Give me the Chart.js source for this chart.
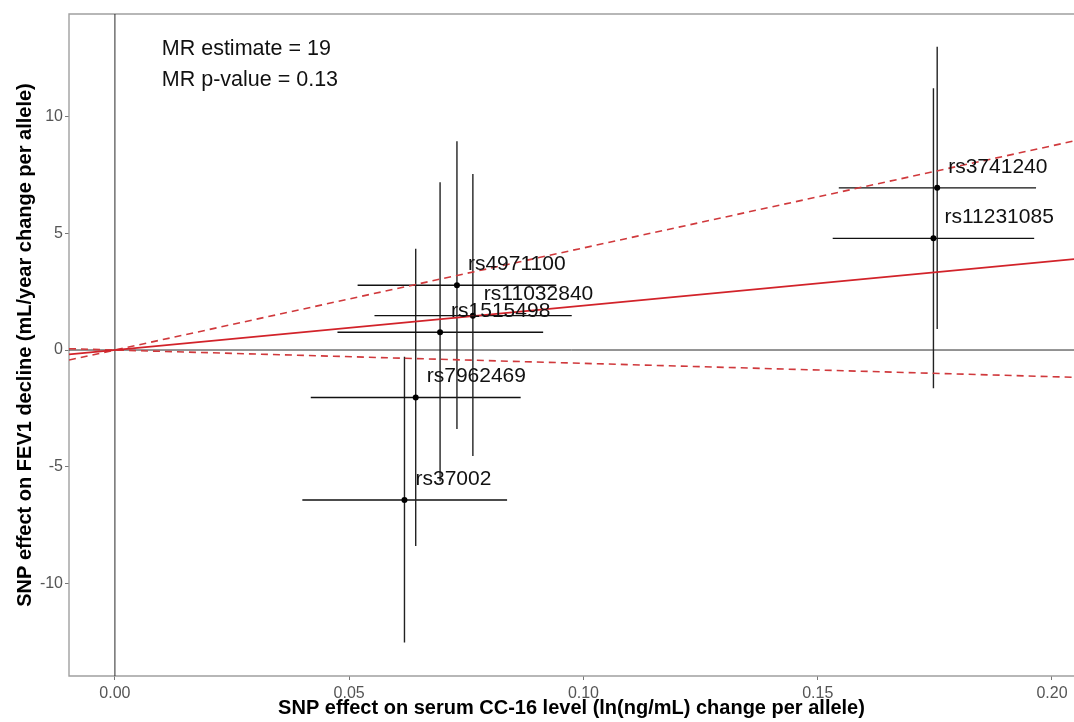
<!DOCTYPE html>
<html>
<head>
<meta charset="utf-8">
<script src="https://cdn.jsdelivr.net/npm/chart.js@4.4.1/dist/chart.umd.min.js"></script>
<style>
  body { margin: 0; background: #fff; }
  #wrap { width: 1074px; height: 722px; }
</style>
</head>
<body>
<div id="wrap"><canvas id="chart"></canvas></div>
<script>
// SNP effects
const snps = ['rs3741240', 'rs11231085', 'rs4971100', 'rs11032840', 'rs1515498', 'rs7962469', 'rs37002'];
const cc16Effect = [0.1755, 0.1747, 0.0730, 0.0764, 0.0694, 0.0642, 0.0618];
const cc16Lower = [0.1545, 0.1532, 0.0518, 0.0554, 0.0475, 0.0418, 0.0400];
const cc16Upper = [0.1966, 0.1962, 0.0942, 0.0975, 0.0914, 0.0866, 0.0837];
const fev1Effect = [6.94, 4.78, 2.77, 1.47, 0.76, -2.03, -6.42];
const fev1Lower = [0.90, -1.64, -3.38, -4.54, -5.62, -8.39, -12.52];
const fev1Upper = [12.98, 11.20, 8.93, 7.53, 7.18, 4.33, -0.29];

// MR slope and its confidence limits
const mrSlopes = [19, -5.7, 43.7];
const annotation = ['MR estimate = 19', 'MR p-value = 0.13'];

// Axes
const xTicks = [0, 0.05, 0.10, 0.15, 0.20];
const yTicks = [-10, -5, 0, 5, 10];
const xRange = [-0.0098, 0.2047];
const yRange = [-13.95, 14.38];

const FONT = "'Liberation Sans', Arial, Helvetica, sans-serif";
Chart.defaults.font.family = FONT;

const datasets = [];

// Reference lines at zero
datasets.push({
  data: [{ x: xRange[0], y: 0 }, { x: xRange[1], y: 0 }],
  showLine: true, borderColor: '#2a2a2a', borderWidth: 1, pointRadius: 0, order: 6
});
datasets.push({
  data: [{ x: 0, y: yRange[0] }, { x: 0, y: yRange[1] }],
  showLine: true, borderColor: '#2a2a2a', borderWidth: 1, pointRadius: 0, order: 6
});

// Error bars, both directions
snps.forEach((name, i) => {
  datasets.push({
    data: [{ x: cc16Lower[i], y: fev1Effect[i] }, { x: cc16Upper[i], y: fev1Effect[i] }],
    showLine: true, borderColor: '#111', borderWidth: 1.4, pointRadius: 0, order: 4
  });
  datasets.push({
    data: [{ x: cc16Effect[i], y: fev1Lower[i] }, { x: cc16Effect[i], y: fev1Upper[i] }],
    showLine: true, borderColor: '#222', borderWidth: 1.4, pointRadius: 0, order: 4
  });
});

// Point estimates
datasets.push({
  data: snps.map((name, i) => ({ x: cc16Effect[i], y: fev1Effect[i] })),
  pointRadius: 3, pointBackgroundColor: '#000', pointBorderWidth: 0, order: 3
});

// MR estimate (solid) and its CI (dashed)
mrSlopes.forEach((slope, i) => {
  datasets.push({
    data: xRange.map(x => ({ x: x, y: slope * x })),
    showLine: true,
    borderColor: i === 0 ? '#d2232a' : '#d0393c',
    borderWidth: 1.6,
    borderDash: i === 0 ? [] : [7, 5],
    pointRadius: 0,
    order: 1
  });
});

// Panel border: left, top and bottom
const panelBorder = {
  id: 'panelBorder',
  beforeDatasetsDraw(chart) {
    const { ctx, chartArea: a } = chart;
    ctx.save();
    ctx.strokeStyle = '#a0a0a0';
    ctx.lineWidth = 1.4;
    ctx.beginPath();
    ctx.moveTo(a.right, a.top);
    ctx.lineTo(a.left, a.top);
    ctx.lineTo(a.left, a.bottom);
    ctx.lineTo(a.right, a.bottom);
    ctx.stroke();
    ctx.restore();
  }
};

// SNP labels and the MR text
const textLayer = {
  id: 'textLayer',
  afterDatasetsDraw(chart) {
    const { ctx, scales: { x, y } } = chart;
    ctx.save();
    ctx.fillStyle = '#111';
    ctx.textBaseline = 'middle';
    ctx.textAlign = 'left';
    ctx.font = '21px ' + FONT;
    snps.forEach((name, i) => {
      ctx.fillText(name, x.getPixelForValue(cc16Effect[i]) + 11, y.getPixelForValue(fev1Effect[i]) - 21);
    });
    ctx.font = '21.5px ' + FONT;
    annotation.forEach((line, i) => {
      ctx.fillText(line, x.getPixelForValue(0.010), y.getPixelForValue(12.9) + i * 31);
    });
    ctx.restore();
  }
};

new Chart(document.getElementById('chart'), {
  type: 'scatter',
  data: { datasets },
  options: {
    responsive: true,
    maintainAspectRatio: false,
    animation: false,
    layout: { autoPadding: false, padding: { top: 14, left: 0, right: 0, bottom: 0 } },
    plugins: { legend: { display: false }, tooltip: { enabled: false } },
    scales: {
      x: {
        type: 'linear',
        min: xRange[0],
        max: xRange[1],
        afterBuildTicks: s => { s.ticks = xTicks.map(v => ({ value: v })); },
        afterFit: s => { s.height = 46; s.paddingLeft = 0; s.paddingRight = 0; },
        ticks: {
          callback: v => v.toFixed(2),
          color: '#555', font: { size: 16 }, padding: 4, maxRotation: 0, autoSkip: false
        },
        grid: { drawOnChartArea: false, drawTicks: true, tickLength: 4, color: '#777' },
        border: { display: false },
        title: {
          display: true,
          text: 'SNP effect on serum CC-16 level (ln(ng/mL) change per allele)',
          color: '#000', font: { size: 20, weight: 'bold' }, padding: { top: 0, bottom: 2 }
        }
      },
      y: {
        type: 'linear',
        min: yRange[0],
        max: yRange[1],
        afterBuildTicks: s => { s.ticks = yTicks.map(v => ({ value: v })); },
        afterFit: s => { s.width = 69; s.paddingTop = 0; s.paddingBottom = 0; },
        ticks: { color: '#555', font: { size: 16 }, padding: 2, autoSkip: false },
        grid: { drawOnChartArea: false, drawTicks: true, tickLength: 4, color: '#777' },
        border: { display: false },
        title: {
          display: true,
          text: 'SNP effect on FEV1 decline (mL/year change per allele)',
          color: '#000', font: { size: 20, weight: 'bold' }, padding: { top: 13, bottom: 0 }
        }
      }
    }
  },
  plugins: [panelBorder, textLayer]
});
</script>
</body>
</html>
